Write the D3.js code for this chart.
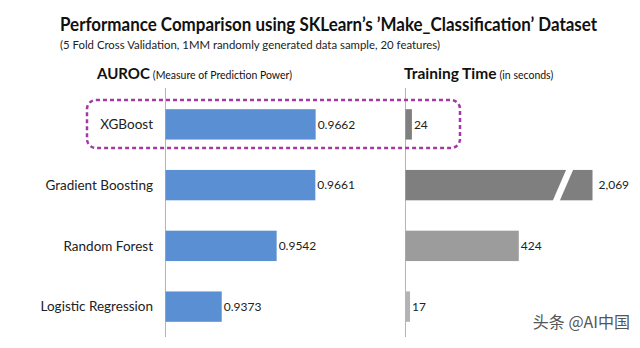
<!DOCTYPE html>
<html>
<head>
<meta charset="utf-8">
<script src="https://cdn.jsdelivr.net/npm/d3@7"></script>
<style>
  body { margin: 0; background: #ffffff; }
  svg { display: block; font-family: Lato, "Open Sans", sans-serif; }
</style>
</head>
<body>
<div id="chart"></div>
<script>
// Data
var models = ['XGBoost', 'Gradient Boosting', 'Random Forest', 'Logistic Regression'];
var auroc = [0.9662, 0.9661, 0.9542, 0.9373];
var trainSeconds = [24, 2069, 424, 17];
var trainLabels = ['24', '2,069', '424', '17'];
var aurocDomain = [0.92, 1.0];
var timeDomain = [0, 700]; // bars longer than this get a break
var timeColors = ['#7f7f7f', '#7f7f7f', '#9c9c9c', '#b3b3b3'];

var width = 640, height = 348;

var svg = d3.select('#chart').append('svg')
    .attr('width', width)
    .attr('height', height);

// Settings
var leftAxisX = 165.5,
    rightAxisX = 405.5,
    axisTop = 88,
    axisBottom = 337;

var y = d3.scaleBand()
    .domain(models)
    .range([94, 337])
    .paddingInner(0.5)
    .paddingOuter(0.25);

var xAuc = d3.scaleLinear().domain(aurocDomain).range([leftAxisX, leftAxisX + 260]);
var xTime = d3.scaleLinear().domain(timeDomain).range([rightAxisX, rightAxisX + 187]).clamp(true);

// Titles
svg.append('text')
    .attr('x', 60).attr('y', 31)
    .attr('textLength', 537).attr('lengthAdjust', 'spacingAndGlyphs')
    .style('font-size', '18px').style('font-weight', 'bold').style('fill', '#111')
    .text('Performance Comparison using SKLearn\u2019s \u2019Make_Classification\u2019 Dataset');

svg.append('text')
    .attr('x', 60).attr('y', 49)
    .attr('textLength', 380).attr('lengthAdjust', 'spacingAndGlyphs')
    .style('font-size', '12px').style('fill', '#222')
    .text('(5 Fold Cross Validation, 1MM randomly generated data sample, 20 features)');

function heading(x, bold, small, size) {
    var t = svg.append('text').attr('x', x).attr('y', 79).style('fill', '#111');
    t.append('tspan').style('font-size', size + 'px').style('font-weight', 'bold').text(bold);
    t.append('tspan').style('font-size', '10.5px').attr('dx', 3).text(small);
}
heading(97, 'AUROC', '(Measure of Prediction Power)', 15);
heading(404, 'Training Time', '(in seconds)', 15.5);

// Axis lines
[leftAxisX, rightAxisX].forEach(function(x) {
    svg.append('line')
        .attr('x1', x).attr('x2', x)
        .attr('y1', axisTop).attr('y2', axisBottom)
        .style('stroke', '#b5b5b5').style('stroke-width', 1);
});

// Category labels
svg.selectAll('.cat').data(models).enter().append('text')
    .attr('class', 'cat')
    .attr('x', 153)
    .attr('y', function(d) { return y(d) + y.bandwidth() / 2; })
    .attr('dy', '0.35em')
    .attr('text-anchor', 'end')
    .style('font-size', '13.5px').style('fill', '#222')
    .text(function(d) { return d; });

// AUROC bars
svg.selectAll('.auc').data(auroc).enter().append('rect')
    .attr('class', 'auc')
    .attr('x', xAuc(aurocDomain[0]))
    .attr('y', function(d, i) { return y(models[i]); })
    .attr('width', function(d) { return xAuc(d) - xAuc(aurocDomain[0]); })
    .attr('height', y.bandwidth())
    .style('fill', '#5b8fd3');

svg.selectAll('.auclbl').data(auroc).enter().append('text')
    .attr('class', 'auclbl')
    .attr('x', function(d) { return xAuc(d) + 2; })
    .attr('y', function(d, i) { return y(models[i]) + y.bandwidth() / 2; })
    .attr('dy', '0.35em')
    .style('font-size', '12px').style('fill', '#222')
    .text(function(d) { return d.toFixed(4); });

// Training time bars
svg.selectAll('.time').data(trainSeconds).enter().append('rect')
    .attr('class', 'time')
    .attr('x', xTime(0))
    .attr('y', function(d, i) { return y(models[i]); })
    .attr('width', function(d) { return xTime(d) - xTime(0); })
    .attr('height', y.bandwidth())
    .style('fill', function(d, i) { return timeColors[i]; });

// Break mark on bars that run past the domain
trainSeconds.forEach(function(d, i) {
    if (d <= timeDomain[1]) return;
    var end = xTime(d),
        top = y(models[i]) - 1,
        bot = y(models[i]) + y.bandwidth() + 1;
    svg.append('polygon')
        .attr('points', [
            [end - 26, top], [end - 19, top],
            [end - 33, bot], [end - 40, bot]
        ].join(' '))
        .style('fill', '#ffffff');
});

svg.selectAll('.timelbl').data(trainSeconds).enter().append('text')
    .attr('class', 'timelbl')
    .attr('x', function(d, i) { return xTime(d) + (d > timeDomain[1] ? 6 : 2); })
    .attr('y', function(d, i) { return y(models[i]) + y.bandwidth() / 2; })
    .attr('dy', '0.35em')
    .style('font-size', '12px').style('fill', '#222')
    .text(function(d, i) { return trainLabels[i]; });

// Dashed highlight round XGBoost
svg.append('rect')
    .attr('x', 87).attr('y', 100)
    .attr('width', 373).attr('height', 48)
    .attr('rx', 9).attr('ry', 9)
    .style('fill', 'none')
    .style('stroke', '#a33aa3')
    .style('stroke-width', 2.5)
    .style('stroke-dasharray', '4,3');

// Watermark
svg.append('text')
    .attr('x', 630).attr('y', 328)
    .attr('text-anchor', 'end')
    .style('font-family', '"Noto Sans CJK SC", sans-serif')
    .style('font-size', '16px').style('fill', '#555')
    .text('头条 @AI中国');
</script>
</body>
</html>
